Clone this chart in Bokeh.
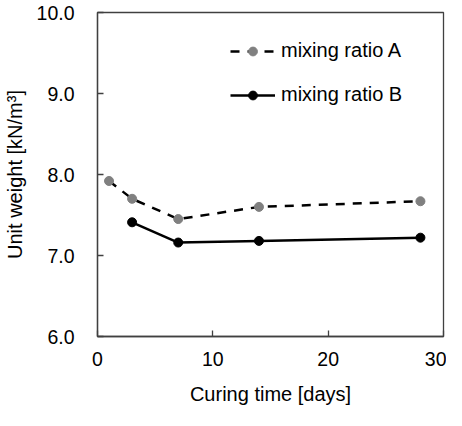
from bokeh.plotting import figure
from bokeh.models import ColumnDataSource, FixedTicker, Legend, LegendItem, NumeralTickFormatter, Range1d
from bokeh.embed import file_html
from bokeh.resources import INLINE

days_a = [1, 3, 7, 14, 28]
weight_a = [7.92, 7.70, 7.45, 7.60, 7.67]
days_b = [3, 7, 14, 28]
weight_b = [7.41, 7.16, 7.18, 7.22]
x_ticks = [0, 10, 20, 30]
y_ticks = [6, 7, 8, 9, 10]
label_a = "mixing ratio A"
label_b = "mixing ratio B"

FONT = "Liberation Sans"
AXC = "#404040"

p = figure(width=446, height=410, output_backend="svg", toolbar_location=None,
           x_range=Range1d(0, 30), y_range=Range1d(6, 10),
           min_border_left=93, min_border_right=3, min_border_top=12, min_border_bottom=74)
p.background_fill_color = "white"
p.border_fill_color = "white"
p.outline_line_color = AXC
p.outline_line_width = 1.3
p.grid.visible = False

for ax in (p.xaxis[0], p.yaxis[0]):
    ax.axis_line_color = AXC
    ax.axis_line_width = 1.3
    ax.major_tick_in = 6
    ax.major_tick_out = 0
    ax.major_tick_line_color = AXC
    ax.major_tick_line_width = 1.3
    ax.minor_tick_line_color = None
    ax.major_label_text_font = FONT
    ax.major_label_text_font_size = "19.5px"
    ax.major_label_text_color = "black"
    ax.axis_label_text_font = FONT
    ax.axis_label_text_font_size = "20px"
    ax.axis_label_text_font_style = "normal"
    ax.axis_label_text_color = "black"

p.xaxis[0].ticker = FixedTicker(ticks=x_ticks)
p.yaxis[0].ticker = FixedTicker(ticks=y_ticks)
p.yaxis[0].formatter = NumeralTickFormatter(format="0.0")
p.xaxis[0].major_label_standoff = 15
p.yaxis[0].major_label_standoff = 23
p.xaxis[0].axis_label = "Curing time [days]"
p.yaxis[0].axis_label = "Unit weight [kN/m³]"
p.xaxis[0].axis_label_standoff = 14
p.yaxis[0].axis_label_standoff = 8

src_a = ColumnDataSource(dict(x=days_a, y=weight_a))
src_b = ColumnDataSource(dict(x=days_b, y=weight_b))

la = p.line("x", "y", source=src_a, line_color="black", line_width=2.5, line_dash="9 8")
ma = p.scatter("x", "y", source=src_a, size=9, fill_color="#808080", line_color="#808080")
lb = p.line("x", "y", source=src_b, line_color="black", line_width=2.5)
mb = p.scatter("x", "y", source=src_b, size=9, fill_color="black", line_color="black")

legend = Legend(items=[LegendItem(label=label_a, renderers=[la, ma]),
                       LegendItem(label=label_b, renderers=[lb, mb])],
                location=(133, 230), padding=0, margin=0, border_line_color=None,
                background_fill_alpha=0, glyph_width=45, glyph_height=22,
                label_height=22, spacing=21, label_standoff=6,
                label_text_font=FONT, label_text_font_size="20px", label_text_color="black")
p.add_layout(legend, "center")

open("out.html", "w").write(file_html(p, INLINE))
